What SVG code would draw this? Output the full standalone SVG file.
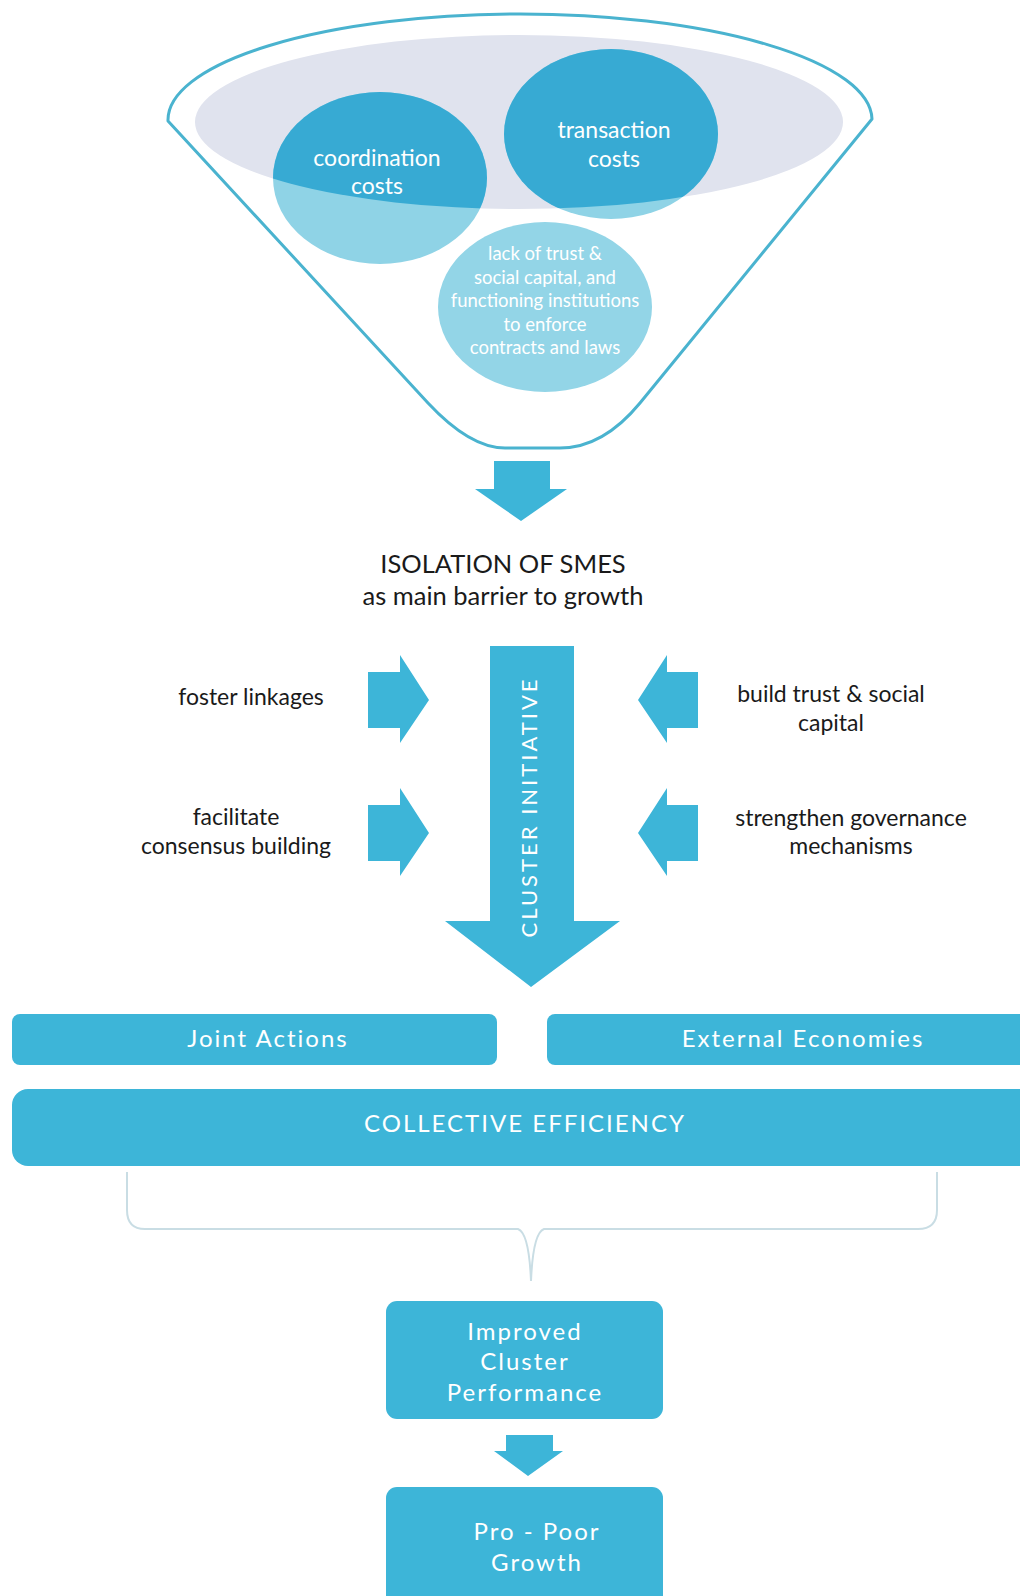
<svg xmlns="http://www.w3.org/2000/svg" width="1020" height="1596" viewBox="0 0 1020 1596">
<style>
.w{fill:#ffffff;font-family:Lato,"Open Sans",sans-serif;text-anchor:middle}
.k{fill:#1a1a1a;font-family:Lato,"Open Sans",sans-serif;text-anchor:middle;font-size:23px}
.t{fill:#1a1a1a;font-family:Lato,"Open Sans",sans-serif;text-anchor:middle;font-size:25.5px}
.b{fill:#3db5d8}
.box{fill:#3db5d8}
.bt{fill:#ffffff;font-family:Lato,"Open Sans",sans-serif;text-anchor:middle;font-size:24px;letter-spacing:2px}
</style>
<defs>
<clipPath id="ell"><ellipse cx="519" cy="122" rx="324" ry="87"/></clipPath>
</defs>
<rect width="1020" height="1596" fill="#ffffff"/>

<g id="funnel">
<path d="M168,121 A352,106 0 0 1 872,119 L640,403 Q603,448 560,448 L505,448 Q470,448 428,403 Z" fill="#ffffff" stroke="#4ab3cf" stroke-width="3" stroke-linejoin="round"/>
<ellipse cx="519" cy="122" rx="324" ry="87" fill="#e0e3ee"/>
</g>

<g id="coordination">
<ellipse cx="380" cy="178" rx="107" ry="86" fill="#8fd3e6"/>
<ellipse cx="380" cy="178" rx="107" ry="86" fill="#37aad3" clip-path="url(#ell)"/>
<text class="w" font-size="23" x="377" y="166">coordination</text>
<text class="w" font-size="23" x="377" y="194">costs</text>
</g>

<g id="transaction">
<ellipse cx="611" cy="134" rx="107" ry="85" fill="#8fd3e6"/>
<ellipse cx="611" cy="134" rx="107" ry="85" fill="#37aad3" clip-path="url(#ell)"/>
<text class="w" font-size="23" x="614" y="138">transaction</text>
<text class="w" font-size="23" x="614" y="167">costs</text>
</g>

<g id="lacktrust">
<ellipse cx="545" cy="307" rx="107" ry="85" fill="#93d5e7"/>
<text class="w" font-size="18.5" x="545" y="260">lack of trust &amp;</text>
<text class="w" font-size="18.5" x="545" y="284">social capital, and</text>
<text class="w" font-size="18.5" x="545" y="307">functioning institutions</text>
<text class="w" font-size="18.5" x="545" y="331">to enforce</text>
<text class="w" font-size="18.5" x="545" y="354">contracts and laws</text>
</g>

<g id="connectors">
<path class="b" d="M494,461 H550 V489 H567 L521,521 L475,489 H494 Z"/>
<path class="b" d="M368,672 H400 V655 L429,700 L400,743 V728 H368 Z"/>
<path class="b" d="M368,805 H400 V788 L429,833 L400,876 V861 H368 Z"/>
<path class="b" d="M698,672 H667 V655 L638,700 L667,743 V728 H698 Z"/>
<path class="b" d="M698,805 H667 V788 L638,833 L667,876 V861 H698 Z"/>
<path class="b" d="M506,1435 H553 V1451 H563 L528,1476 L494,1451 H506 Z"/>
<path d="M127,1172 V1210 Q127,1229 145,1229 H518 Q529,1233 531,1281 Q533,1233 544,1229 H918 Q937,1229 937,1210 V1172" fill="none" stroke="#c9dde4" stroke-width="2"/>
</g>

<g id="isolation">
<text class="t" x="503" y="573">ISOLATION OF SMES</text>
<text class="t" x="503" y="605">as main barrier to growth</text>
</g>

<g id="cluster">
<path class="b" d="M490,646 H574 V921 H620 L531,987 L445,921 H490 Z"/>
<text class="w" font-size="22" letter-spacing="3" transform="translate(537,807) rotate(-90)">CLUSTER INITIATIVE</text>
</g>

<g id="foster"><text class="k" x="251" y="705">foster linkages</text></g>
<g id="facilitate"><text class="k" x="236" y="825">facilitate</text><text class="k" x="236" y="854">consensus building</text></g>
<g id="buildtrust"><text class="k" x="831" y="702">build trust &amp; social</text><text class="k" x="831" y="731">capital</text></g>
<g id="strengthen"><text class="k" x="851" y="826">strengthen governance</text><text class="k" x="851" y="854">mechanisms</text></g>

<g id="joint">
<rect class="box" x="12" y="1014" width="485" height="51" rx="8"/>
<text class="bt" x="268" y="1047">Joint Actions</text>
</g>
<g id="external">
<rect class="box" x="547" y="1014" width="490" height="51" rx="8"/>
<text class="bt" x="803" y="1047">External Economies</text>
</g>
<g id="collective">
<rect class="box" x="12" y="1089" width="1025" height="77" rx="16"/>
<text class="bt" x="525" y="1132" font-size="23">COLLECTIVE EFFICIENCY</text>
</g>
<g id="improved">
<rect class="box" x="386" y="1301" width="277" height="118" rx="11"/>
<text class="bt" x="525" y="1340" font-size="26">Improved</text>
<text class="bt" x="525" y="1370" font-size="26">Cluster</text>
<text class="bt" x="525" y="1401" font-size="26">Performance</text>
</g>
<g id="propoor">
<rect class="box" x="386" y="1487" width="277" height="130" rx="11"/>
<text class="bt" x="537" y="1540" font-size="26">Pro - Poor</text>
<text class="bt" x="537" y="1571" font-size="26">Growth</text>
</g>
</svg>
